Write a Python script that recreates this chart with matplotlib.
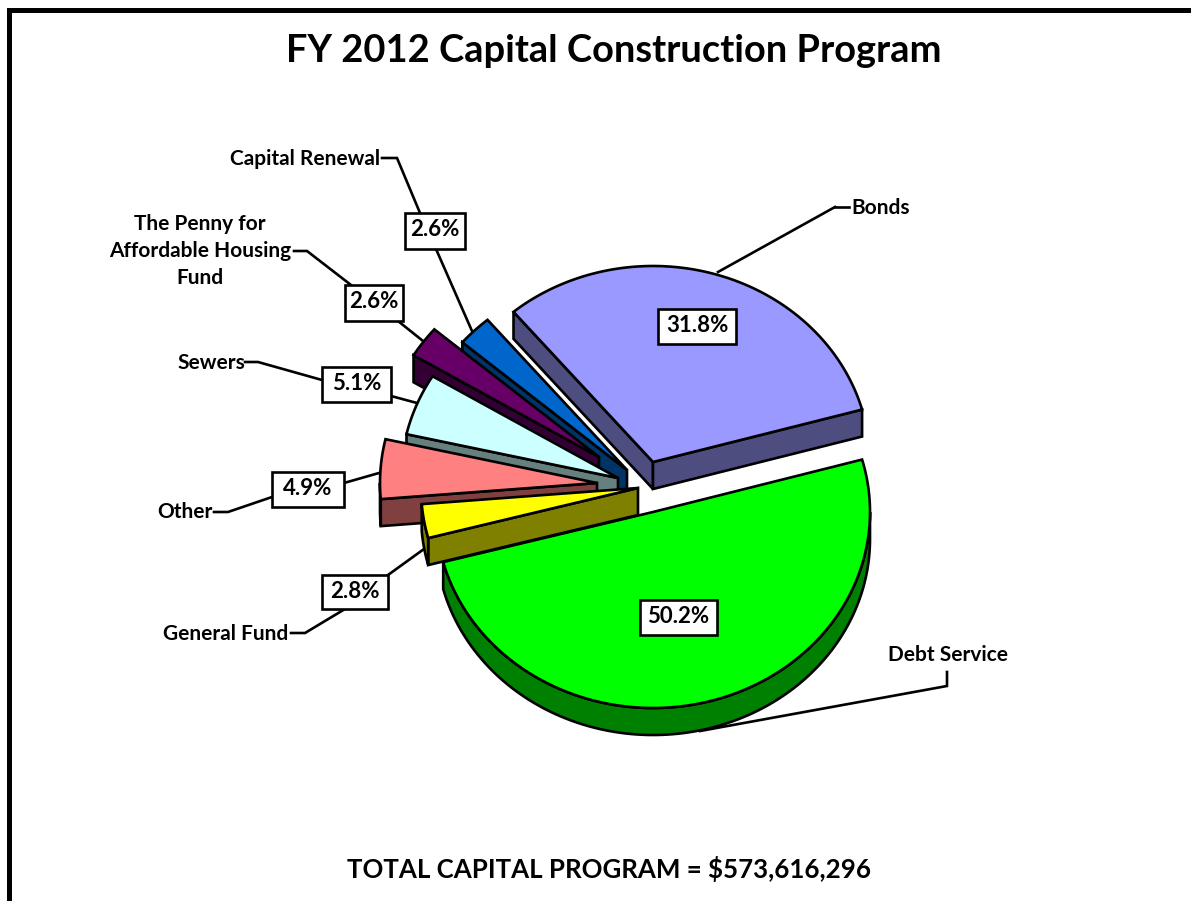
import numpy as np
import matplotlib
matplotlib.use("Agg")
import matplotlib.pyplot as plt
from matplotlib.patches import Polygon, Rectangle

plt.rcParams['font.family'] = ['Lato', 'DejaVu Sans']

# drawn clockwise starting from Bonds
names = ["Bonds", "Debt Service", "General Fund", "Other", "Sewers",
         "The Penny for\nAffordable Housing\nFund", "Capital Renewal"]
values = [31.8, 50.2, 2.8, 4.9, 5.1, 2.6, 2.6]
colors = ["#9999FF", "#00FF00", "#FFFF00", "#FF8080", "#CCFFFF", "#660066", "#0066CC"]
walls = ["#4D4D80", "#008000", "#808000", "#804040", "#668080", "#330033", "#003366"]

# where each exploded slice has its tip, in pixels
tip_x = [653, 653, 638, 597, 618, 599, 627]
tip_y = [462, 512, 488, 483, 478, 457, 470]
box_x = [658, 640, 322, 272, 322, 345, 405]
box_y = [309, 600, 575, 472, 367, 285, 213]
box_w = [78, 77, 66, 72, 69, 58, 60]
box_h = [35, 35, 34, 35, 35, 36, 36]

rx, ry, depth = 217, 196, 27
start = -40.0
lw = 1.9

fig = plt.figure(figsize=(11.91, 9.01), dpi=100)
ax = fig.add_axes([0, 0, 1, 1])
ax.set_xlim(0, 1191)
ax.set_ylim(901, 0)
ax.axis("off")


def rim(cx, cy, a, b):
    t = np.radians(np.linspace(a, b, max(int(abs(b - a) * 2), 2)))
    return cx + rx * np.sin(t), cy - ry * np.cos(t)


def side(cx, cy, a, color):
    x, y = rim(cx, cy, a, a)
    pts = [(cx, cy), (x[0], y[0]), (x[0], y[0] + depth), (cx, cy + depth)]
    ax.add_patch(Polygon(pts, closed=True, fc=color, ec="black", lw=lw, zorder=zo, joinstyle="miter"))


angles = start + np.cumsum([0] + values) * 3.6
draw_order = [0, 6, 5, 4, 3, 1, 2]
for zo, i in enumerate(draw_order, start=2):
    a, b = angles[i], angles[i + 1]
    cx, cy = tip_x[i], tip_y[i]
    # a cut face only shows when it hangs below the slice
    if np.sin(np.radians(a)) < 0:
        side(cx, cy, a, walls[i])
    if np.sin(np.radians(b)) > 0:
        side(cx, cy, b, walls[i])
    # outer wall, only the part that faces the viewer
    lo, hi = max(a, 90), min(b, 270)
    if hi > lo:
        x, y = rim(cx, cy, lo, hi)
        pts = np.r_[np.c_[x, y], np.c_[x, y + depth][::-1]]
        ax.add_patch(Polygon(pts, closed=True, fc=walls[i], ec="black", lw=lw, zorder=zo))
    x, y = rim(cx, cy, a, b)
    pts = np.r_[[[cx, cy]], np.c_[x, y]]
    ax.add_patch(Polygon(pts, closed=True, fc=colors[i], ec="black", lw=lw, zorder=zo, joinstyle="miter"))

# leader lines
leaders = [
    [(835, 207), (849, 207)], [(718, 272), (835, 207)],
    [(947, 672), (947, 686), (700, 731)],
    [(291, 633), (305, 633), (345, 609)], [(388, 575), (424, 549)],
    [(214, 512), (228, 512), (272, 497)], [(344, 483), (379, 473)],
    [(245, 362), (258, 362), (322, 380)], [(391, 396), (417, 403)],
    [(294, 251), (307, 251), (351, 285)], [(398, 321), (423, 341)],
    [(382, 158), (397, 158), (420, 213)], [(436, 249), (472, 331)],
]
for line in leaders:
    xs, ys = zip(*line)
    ax.plot(xs, ys, color="black", lw=lw, zorder=1, solid_joinstyle="miter")

for i, v in enumerate(values):
    ax.add_patch(Rectangle((box_x[i], box_y[i]), box_w[i], box_h[i], fc="white", ec="black", lw=lw, zorder=20))
    ax.text(box_x[i] + box_w[i] / 2, box_y[i] + box_h[i] / 2 - 1, "%.1f%%" % v, ha="center", va="center",
            fontsize=16, fontweight="bold", zorder=21)

name_x = [851, 948, 226, 185, 211, 200, 305]
name_y = [208, 655, 634, 512, 363, 251, 159]
for i, n in enumerate(names):
    ax.text(name_x[i], name_y[i], n, ha="left" if i == 0 else "center", va="center", fontsize=15,
            fontweight="bold", linespacing=1.45, zorder=21)

ax.text(614, 51, "FY 2012 Capital Construction Program", ha="center", va="center", fontsize=27.4, fontweight="bold")
ax.text(609, 869, "TOTAL CAPITAL PROGRAM = $573,616,296", ha="center", va="center", fontsize=18.6, fontweight="bold")

# page frame, runs off the right and bottom of the picture
ax.plot([9, 9, 1191], [901, 9.5, 9.5], color="black", lw=3.6, solid_joinstyle="miter", zorder=30)

fig.savefig("out.png", dpi=100)
